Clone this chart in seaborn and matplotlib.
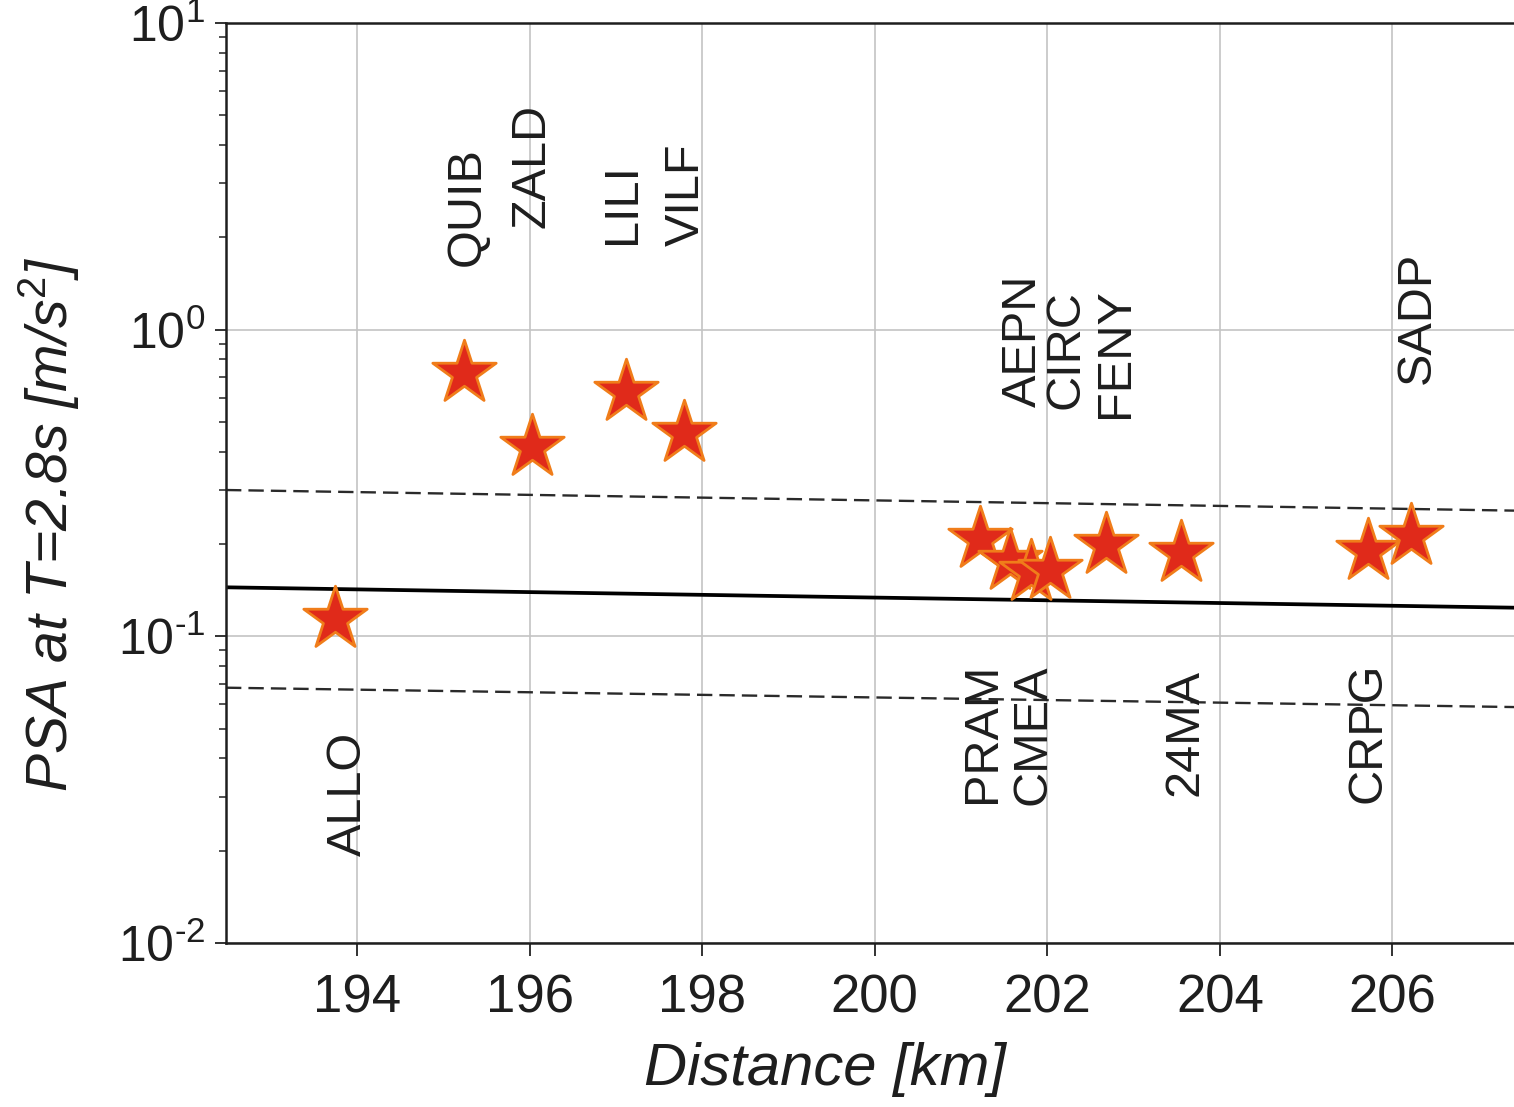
import numpy as np
import pandas as pd
import matplotlib
matplotlib.use('Agg')
import matplotlib.pyplot as plt
import matplotlib.ticker as mticker
import seaborn as sns

# station records (distance in km, PSA in m/s^2)
stations = ['ALLO', 'QUIB', 'ZALD', 'LILI', 'VILF', 'PRAM', 'AEPN', 'CMEA',
            'CIRC', 'FENY', '24MA', 'CRPG', 'SADP']
distance = [193.74, 195.24, 196.03, 197.12, 197.79, 201.22, 201.57, 201.81,
            202.03, 202.68, 203.55, 205.72, 206.22]
psa = [0.114, 0.72, 0.415, 0.628, 0.462, 0.207, 0.176, 0.162,
       0.165, 0.198, 0.187, 0.19, 0.212]

# where each station name sits (x, y of the start of the rotated text)
label_x = [193.90, 195.275, 196.03, 197.08, 197.81, 201.25, 201.72, 201.84,
           202.22, 202.79, 203.60, 205.72, 206.29]
label_y = [0.0192, 1.61, 2.15, 1.90, 1.87, 0.0287, 0.56, 0.0281,
           0.552, 0.516, 0.0302, 0.0287, 0.667]

# prediction curve and +/- sigma
curve_x = [192.48, 207.41]
median = [0.1445, 0.124]
upper = [0.300, 0.257]
lower = [0.068, 0.0588]

pts = pd.DataFrame({'station': stations, 'dist': distance, 'psa': psa})
curves = pd.DataFrame({'dist': curve_x, 'median': median, 'upper': upper, 'lower': lower})

sns.set_style('ticks')
plt.rcParams['font.family'] = ['Liberation Sans', 'DejaVu Sans']
plt.rcParams['mathtext.fontset'] = 'custom'
plt.rcParams['mathtext.rm'] = 'Liberation Sans'
plt.rcParams['mathtext.it'] = 'Liberation Sans:italic'
plt.rcParams['axes.unicode_minus'] = False

fig = plt.figure(figsize=(15.14, 11.07), dpi=100)
ax = fig.add_axes([226 / 1514, 1 - 943 / 1107, 1 - 226 / 1514, (943 - 23) / 1107])

ax.set_yscale('log')
ax.set_xlim(192.48, 207.41)
ax.set_ylim(0.01, 10)

ax.grid(True, which='major', color='#c4c4c4', linewidth=1.2, zorder=0)
ax.set_axisbelow(True)

sns.lineplot(data=curves, x='dist', y='median', color='black', linewidth=2.7, ax=ax, zorder=2)
for col in ['upper', 'lower']:
    sns.lineplot(data=curves, x='dist', y=col, color='#2a2a2a', linewidth=1.7,
                 dashes=False, ax=ax, zorder=2)
for ln in ax.lines[1:]:
    ln.set_dashes((6.5, 3.0))

sns.scatterplot(data=pts, x='dist', y='psa', marker='*', s=2300, color='#e02a1a',
                edgecolor='#f07d1a', linewidth=2.0, ax=ax, zorder=4, legend=False)

for name, lx, ly in zip(stations, label_x, label_y):
    ax.text(lx, ly, name, rotation=90, ha='center', va='bottom', fontsize=35,
            color='#1e1e1e', zorder=3)


def pow10(v, pos):
    e = int(round(np.log10(v)))
    sign = r'\text{-}' if e < 0 else ''
    return r'10$^{%s%d}$' % (sign, abs(e))


ax.yaxis.set_major_formatter(mticker.FuncFormatter(pow10))

ax.set_xticks([194, 196, 198, 200, 202, 204, 206])
ax.tick_params(axis='x', which='major', length=9, width=1.3, pad=13, labelsize=38,
               color='#222222', labelcolor='#1e1e1e')
ax.tick_params(axis='y', which='major', length=8, width=1.3, pad=7, labelsize=36,
               color='#222222', labelcolor='#1e1e1e')
ax.tick_params(axis='y', which='minor', length=5, width=1.1, color='#222222')

ax.spines['right'].set_visible(False)
for side in ['left', 'bottom', 'top']:
    ax.spines[side].set_linewidth(1.8)
    ax.spines[side].set_color('#1e1e1e')

ax.set_xlabel('Distance [km]', fontsize=43, style='italic', color='#1e1e1e')
ax.xaxis.set_label_coords(0.465, -0.108)
ax.set_ylabel('PSA at T=2.8s [m/s$^2$]', fontsize=41, style='italic', color='#1e1e1e')
ax.yaxis.set_label_coords(-0.112, 0.455)

fig.savefig('out.png', dpi=100, facecolor='white')
